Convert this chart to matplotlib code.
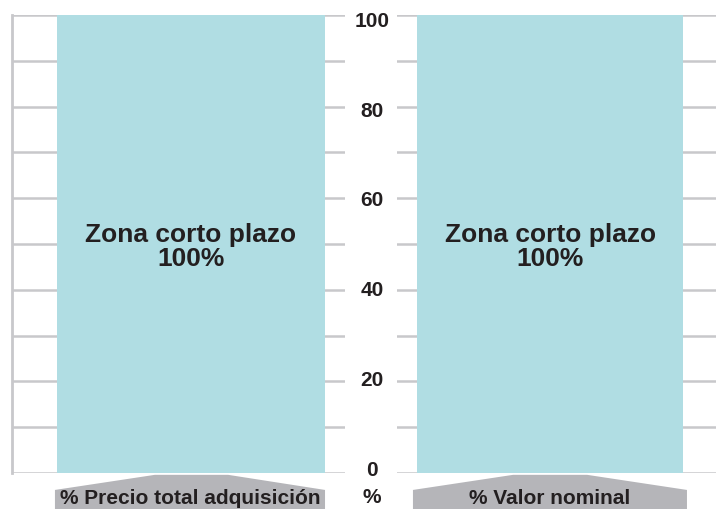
import matplotlib.pyplot as plt
from matplotlib.patches import Polygon

plt.rcParams['font.family'] = ['Liberation Sans', 'DejaVu Sans']

# data
paneles = ["% Precio total adquisición", "% Valor nominal"]
zona = "Zona corto plazo"
valores = [100, 100]
ticks_valor = [0, 20, 40, 60, 80, 100]
unidad = "%"

bar_color = "#b0dde3"
grid_color = "#c8c8cb"
label_bg = "#b5b5b9"
text_color = "#231f20"

W, H = 716, 509
fig = plt.figure(figsize=(W / 100, H / 100), dpi=100)


def px_axes(x0, x1, y0, y1):
    # pixel box (top-left origin) -> figure axes
    return fig.add_axes([x0 / W, 1 - y1 / H, (x1 - x0) / W, (y1 - y0) / H])


ax1 = px_axes(12, 345, 15, 473)
ax2 = px_axes(397, 716, 15, 473)

# bar geometry in axes fractions, trapezoid corners in axes fractions
setup = [
    (ax1, 0.5375, 0.805, (0.429, 0.649, 0.129, 0.94), True),
    (ax2, 0.48, 0.834, (0.364, 0.596, 0.050, 0.909), False),
]

for (ax, xc, w, trap, left_spine), nombre, val in zip(setup, paneles, valores):
    ax.set_xlim(0, 1)
    ax.set_ylim(0, 100)
    ax.bar([xc], [val], width=w, color=bar_color, zorder=3)
    ax.set_yticks(range(0, 101, 10))
    ax.set_xticks([])
    ax.tick_params(axis="y", length=0, labelleft=False)
    ax.grid(axis="y", color=grid_color, lw=1.8, zorder=1)
    for s in ["top", "right", "bottom"]:
        ax.spines[s].set_visible(False)
    if left_spine:
        ax.spines["left"].set_color(grid_color)
        ax.spines["left"].set_linewidth(2)
    else:
        ax.spines["left"].set_visible(False)
    ax.text(xc, 49.4, f"{zona}\n{val}%", ha="center", va="center",
            fontsize=19, fontweight="bold", color=text_color,
            linespacing=1.0, zorder=4)

    # grey label tab under the bar
    tl, tr, bl, br = trap
    poly = Polygon([(tl, -0.004), (tr, -0.004), (br, -0.037), (br, -0.08),
                    (bl, -0.08), (bl, -0.037)], closed=True,
                   transform=ax.transAxes, clip_on=False,
                   facecolor=label_bg, edgecolor="none")
    ax.add_patch(poly)
    ax.text((bl + br) / 2, -0.056, nombre, transform=ax.transAxes,
            ha="center", va="center", fontsize=15, fontweight="bold",
            color=text_color, clip_on=False)

# central value scale (labels sit slightly inside the 0-100 range)
for v in ticks_valor:
    ax2.text(-0.078, 0.6 + v * 0.98, str(v), transform=ax2.get_yaxis_transform(),
             ha="center", va="center", fontsize=15, fontweight="bold",
             color=text_color, clip_on=False)
ax2.text(-0.078, -5.3, unidad, transform=ax2.get_yaxis_transform(),
         ha="center", va="center", fontsize=15, fontweight="bold",
         color=text_color, clip_on=False)

fig.savefig("out.png", dpi=100)
